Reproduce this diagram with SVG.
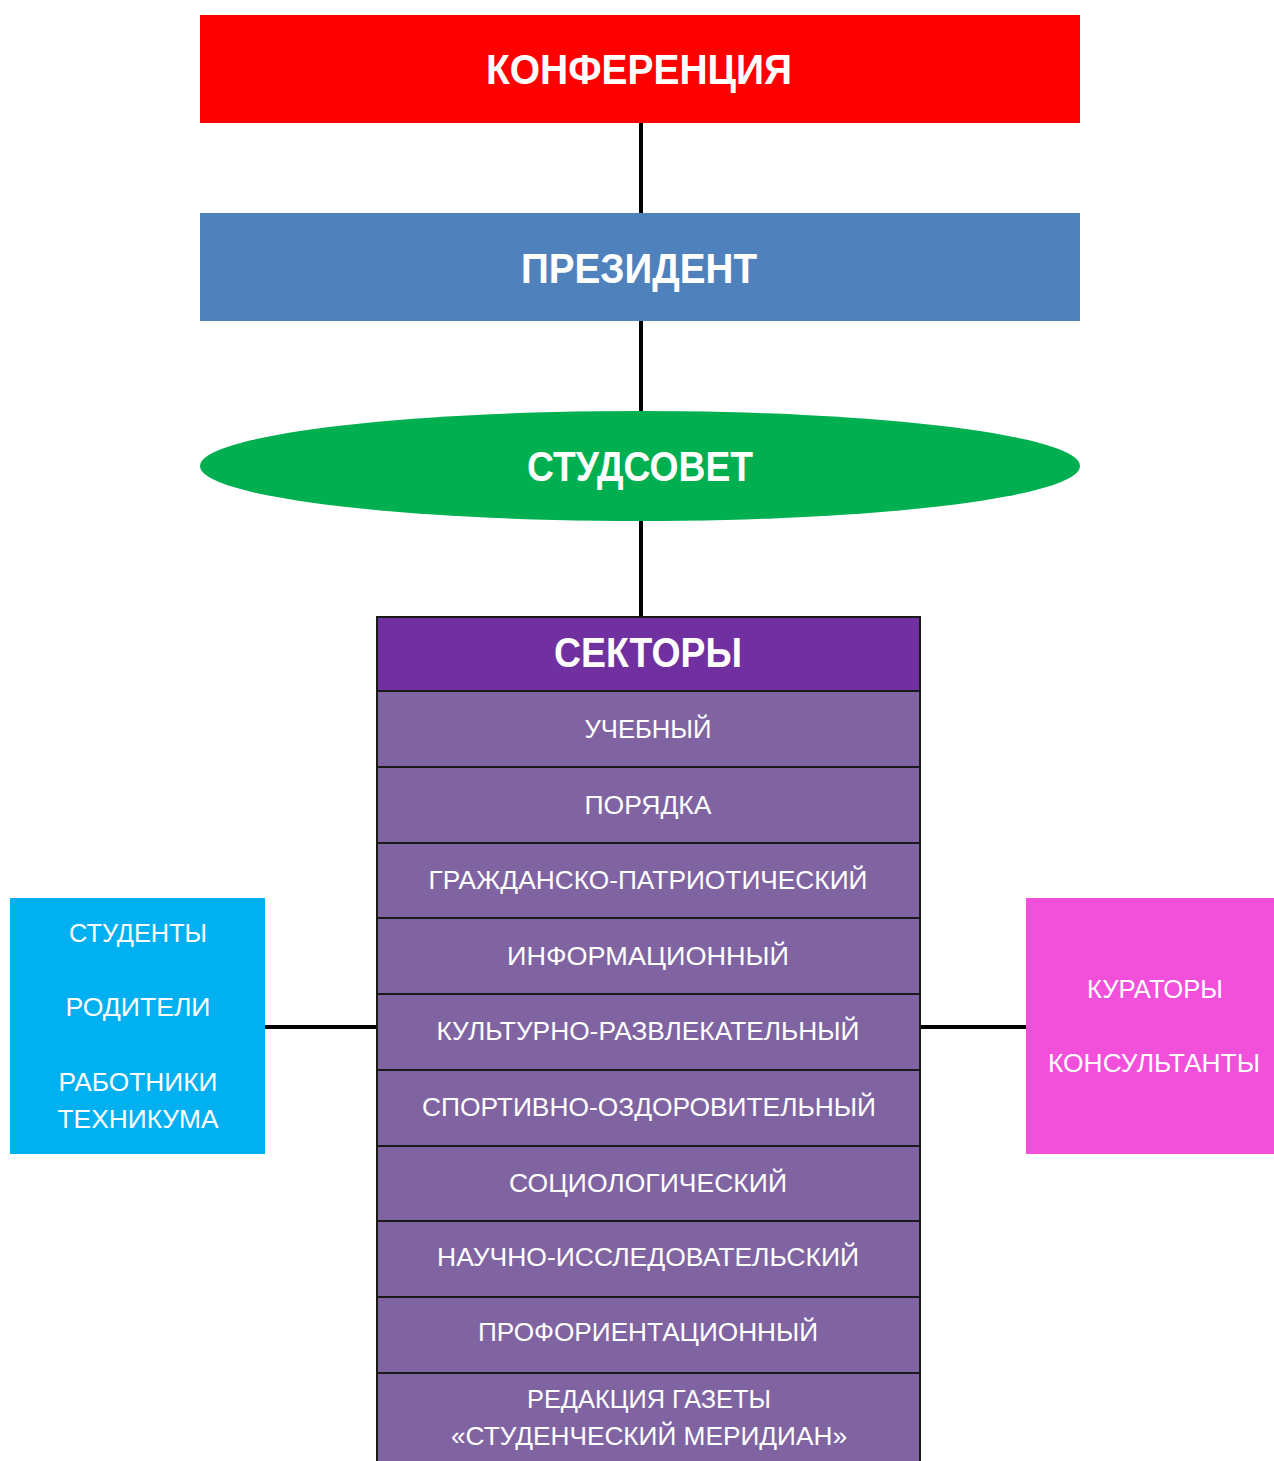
<svg xmlns="http://www.w3.org/2000/svg" width="1274" height="1461" viewBox="0 0 1274 1461">
<style>
.t{font-family:"Liberation Sans",Arial,sans-serif;fill:#fff;text-anchor:middle}
.h{font-size:42px;font-weight:bold}
.r{font-size:25px}
.row{fill:#8064A2;stroke:#1a1a1a;stroke-width:2}
.ln{stroke:#000;stroke-width:4;fill:none}
</style>
<rect width="1274" height="1461" fill="#fff"/>
<g id="connectors">
<line class="ln" x1="641" y1="123" x2="641" y2="213"/>
<line class="ln" x1="641" y1="321" x2="641" y2="411"/>
<line class="ln" x1="641" y1="521" x2="641" y2="617"/>
<line class="ln" x1="265" y1="1027" x2="377" y2="1027"/>
<line class="ln" x1="920" y1="1027" x2="1026" y2="1027"/>
</g>
<g id="konferenciya">
<rect x="200" y="15" width="880" height="108" fill="#FF0000"/>
<text class="t h" x="639" y="84" textLength="306" lengthAdjust="spacingAndGlyphs">КОНФЕРЕНЦИЯ</text>
</g>
<g id="prezident">
<rect x="200" y="213" width="880" height="108" fill="#4F81BD"/>
<text class="t h" x="639" y="283" textLength="236" lengthAdjust="spacingAndGlyphs">ПРЕЗИДЕНТ</text>
</g>
<g id="studsovet">
<ellipse cx="640" cy="466" rx="440" ry="55" fill="#00B050"/>
<text class="t h" x="640" y="481" textLength="226" lengthAdjust="spacingAndGlyphs">СТУДСОВЕТ</text>
</g>
<g id="sektory">
<rect x="377" y="617" width="543" height="74" fill="#7030A0" stroke="#1a1a1a" stroke-width="2"/>
<text class="t h" x="648" y="667" textLength="188" lengthAdjust="spacingAndGlyphs">СЕКТОРЫ</text>
</g>
<g id="s1"><rect class="row" x="377" y="691" width="543" height="76"/><text class="t r" x="648" y="738" textLength="127" lengthAdjust="spacingAndGlyphs">УЧЕБНЫЙ</text></g>
<g id="s2"><rect class="row" x="377" y="767" width="543" height="76"/><text class="t r" x="648" y="814" textLength="127" lengthAdjust="spacingAndGlyphs">ПОРЯДКА</text></g>
<g id="s3"><rect class="row" x="377" y="843" width="543" height="75"/><text class="t r" x="648" y="889" textLength="439" lengthAdjust="spacingAndGlyphs">ГРАЖДАНСКО-ПАТРИОТИЧЕСКИЙ</text></g>
<g id="s4"><rect class="row" x="377" y="918" width="543" height="76"/><text class="t r" x="648" y="965" textLength="282" lengthAdjust="spacingAndGlyphs">ИНФОРМАЦИОННЫЙ</text></g>
<g id="s5"><rect class="row" x="377" y="994" width="543" height="76"/><text class="t r" x="648" y="1040" textLength="423" lengthAdjust="spacingAndGlyphs">КУЛЬТУРНО-РАЗВЛЕКАТЕЛЬНЫЙ</text></g>
<g id="s6"><rect class="row" x="377" y="1070" width="543" height="76"/><text class="t r" x="649" y="1116" textLength="454" lengthAdjust="spacingAndGlyphs">СПОРТИВНО-ОЗДОРОВИТЕЛЬНЫЙ</text></g>
<g id="s7"><rect class="row" x="377" y="1146" width="543" height="75"/><text class="t r" x="648" y="1192" textLength="278" lengthAdjust="spacingAndGlyphs">СОЦИОЛОГИЧЕСКИЙ</text></g>
<g id="s8"><rect class="row" x="377" y="1221" width="543" height="76"/><text class="t r" x="648" y="1266" textLength="422" lengthAdjust="spacingAndGlyphs">НАУЧНО-ИССЛЕДОВАТЕЛЬСКИЙ</text></g>
<g id="s9"><rect class="row" x="377" y="1297" width="543" height="76"/><text class="t r" x="648" y="1341" textLength="340" lengthAdjust="spacingAndGlyphs">ПРОФОРИЕНТАЦИОННЫЙ</text></g>
<g id="s10"><rect class="row" x="377" y="1373" width="543" height="95"/>
<text class="t r" x="649" y="1408" textLength="244" lengthAdjust="spacingAndGlyphs">РЕДАКЦИЯ ГАЗЕТЫ</text>
<text class="t r" x="649" y="1445" textLength="396" lengthAdjust="spacingAndGlyphs">«СТУДЕНЧЕСКИЙ МЕРИДИАН»</text></g>
<g id="left">
<rect x="10" y="898" width="255" height="256" fill="#00B0F0"/>
<text class="t r" x="138" y="942" textLength="138" lengthAdjust="spacingAndGlyphs">СТУДЕНТЫ</text>
<text class="t r" x="138" y="1016" textLength="145" lengthAdjust="spacingAndGlyphs">РОДИТЕЛИ</text>
<text class="t r" x="138" y="1091" textLength="159" lengthAdjust="spacingAndGlyphs">РАБОТНИКИ</text>
<text class="t r" x="138" y="1128" textLength="161" lengthAdjust="spacingAndGlyphs">ТЕХНИКУМА</text>
</g>
<g id="right">
<rect x="1026" y="898" width="248" height="256" fill="#F24FDB"/>
<text class="t r" x="1155" y="998" textLength="136" lengthAdjust="spacingAndGlyphs">КУРАТОРЫ</text>
<text class="t r" x="1154" y="1072" textLength="212" lengthAdjust="spacingAndGlyphs">КОНСУЛЬТАНТЫ</text>
</g>
</svg>
